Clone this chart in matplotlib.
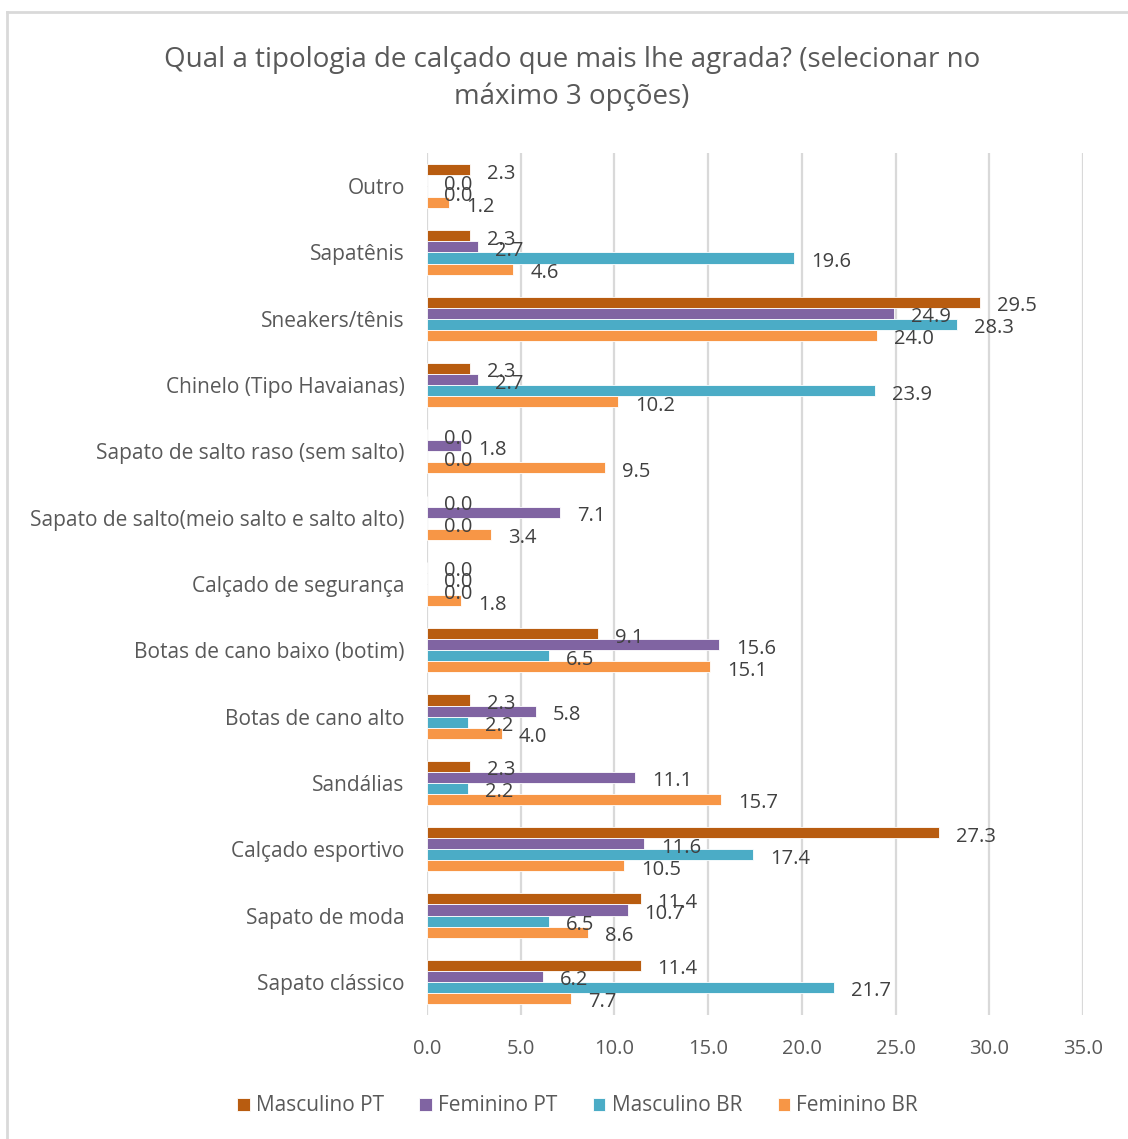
import matplotlib
matplotlib.use("Agg")
import matplotlib.pyplot as plt
from matplotlib.lines import Line2D
import numpy as np

plt.rcParams['font.family'] = ['Open Sans', 'DejaVu Sans']

categories = [
    "Sapato clássico",
    "Sapato de moda",
    "Calçado esportivo",
    "Sandálias",
    "Botas de cano alto",
    "Botas de cano baixo (botim)",
    "Calçado de segurança",
    "Sapato de salto(meio salto e salto alto)",
    "Sapato de salto raso (sem salto)",
    "Chinelo (Tipo Havaianas)",
    "Sneakers/tênis",
    "Sapatênis",
    "Outro",
]

series_names = ["Masculino PT", "Feminino PT", "Masculino BR", "Feminino BR"]
masculino_pt = [11.4, 11.4, 27.3, 2.3, 2.3, 9.1, 0.0, 0.0, 0.0, 2.3, 29.5, 2.3, 2.3]
feminino_pt = [6.2, 10.7, 11.6, 11.1, 5.8, 15.6, 0.0, 7.1, 1.8, 2.7, 24.9, 2.7, 0.0]
masculino_br = [21.7, 6.5, 17.4, 2.2, 2.2, 6.5, 0.0, 0.0, 0.0, 23.9, 28.3, 19.6, 0.0]
feminino_br = [7.7, 8.6, 10.5, 15.7, 4.0, 15.1, 1.8, 3.4, 9.5, 10.2, 24.0, 4.6, 1.2]
colors = ["#B85C10", "#8064A2", "#4BACC6", "#F79646"]

text_color = "#595959"
grid_color = "#D9D9D9"

fig = plt.figure(figsize=(11.28, 11.39), dpi=100)
ax = fig.add_axes([0.3785, 0.1089, 0.5816, 0.7568])

y = np.arange(len(categories))
bar_h = 0.167
all_series = [masculino_pt, feminino_pt, masculino_br, feminino_br]
for i, (vals, name, col) in enumerate(zip(all_series, series_names, colors)):
    # first series sits at the top of each group
    pos = y + (1.5 - i) * bar_h
    ax.barh(pos, vals, height=bar_h, color=col, label=name,
            edgecolor="white", linewidth=0.6, zorder=3)
    for p, v in zip(pos, vals):
        ax.annotate(f"{v:.1f}", (v, p), xytext=(17, -4), textcoords="offset pixels",
                    ha="left", va="center", fontsize=14.5, color="#404040", zorder=4)

ax.set_xlim(0, 35)
ax.set_ylim(-0.5, len(categories) - 0.5)
ax.set_xticks(np.arange(0, 36, 5))
ax.set_xticklabels([f"{t:.1f}" for t in np.arange(0, 36, 5)])
ax.set_yticks(y)
ax.set_yticklabels(categories)
ax.tick_params(axis="x", length=0, labelsize=14.5, labelcolor=text_color, pad=17)
ax.tick_params(axis="y", length=0, labelsize=15, labelcolor=text_color, pad=16)
ax.grid(axis="x", color=grid_color, linewidth=1.6, zorder=0)
for s in ax.spines.values():
    s.set_visible(False)

fig.text(0.507, 0.931, "Qual a tipologia de calçado que mais lhe agrada? (selecionar no\nmáximo 3 opções)",
         ha="center", va="center", fontsize=20, color=text_color, linespacing=1.4)

leg = ax.legend(loc="center", bbox_to_anchor=(0.512, 0.029), bbox_transform=fig.transFigure,
                ncol=4, frameon=False, fontsize=15, handlelength=0.6, handleheight=0.6,
                handletextpad=0.3, columnspacing=1.7)
for t in leg.get_texts():
    t.set_color(text_color)

# chart frame (left and top edges visible)
x0, y0 = 7 / 1128, 1 - 12 / 1139
fig.add_artist(Line2D([x0, x0], [0, y0], color=grid_color, linewidth=2, transform=fig.transFigure))
fig.add_artist(Line2D([x0, 1], [y0, y0], color=grid_color, linewidth=2, transform=fig.transFigure))

fig.savefig("out.png", dpi=100, facecolor="white")
